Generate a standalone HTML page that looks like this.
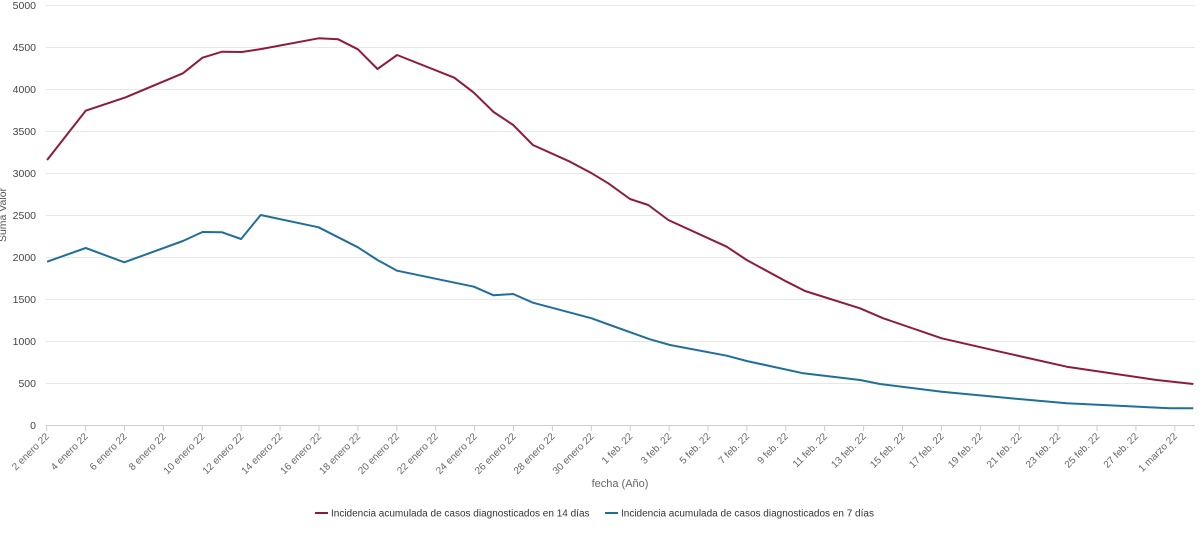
<!DOCTYPE html>
<html><head><meta charset="utf-8"><style>
body{margin:0;background:#fff;width:1200px;height:530px;overflow:hidden}
text{font-family:"Liberation Sans",sans-serif}
</style></head><body>
<svg width="1200" height="530" xmlns="http://www.w3.org/2000/svg">
<g stroke="#e8e8e8" stroke-width="1" id="grid"></g>
<g id="ylab" font-size="10.5" fill="#444" text-anchor="end"></g>
<g id="xt" stroke="#ccc"></g>
<g id="xlab" font-size="10" fill="#666" text-anchor="end"></g>
<line x1="46" y1="425.5" x2="1195" y2="425.5" stroke="#ccc"/>
<text transform="translate(6,215) rotate(-90)" font-size="10.5" fill="#555" text-anchor="middle">Suma Valor</text>
<text x="620" y="487" font-size="11" fill="#666" text-anchor="middle">fecha (Año)</text>
<polyline fill="none" stroke="#8e1b3c" stroke-width="2" stroke-linejoin="round" points="47.1,160 85.7,110.7 125.7,97.3 182.9,73.3 202.5,57.7 222.1,51.7 241.8,52 261.4,49 318.6,38.3 338.2,39.3 357.9,49.3 377.5,69 397.1,55 454.3,77.7 473.9,92.7 493.6,112 513.2,125 532.9,145 570,161.7 591.7,173.3 608.3,183.3 630,199 648.3,205 668.3,220 726.7,246.7 746.7,260 786.7,281.7 805,291 860,308.3 883.3,318.3 941.7,338.3 1000,351.7 1066.7,366.7 1156.7,380 1193.3,384"/>
<polyline fill="none" stroke="#1f6f9a" stroke-width="2" stroke-linejoin="round" points="47.1,261.7 85.7,248 124.3,262.3 182.9,241 202.5,232 222.1,232.3 241.1,239 260.7,215 318.6,227.3 357.9,247.3 377.5,260 397.1,270.7 473.9,286.7 493.6,295.3 513.2,294 532.9,302.7 591.7,318.3 610,325 650,339.3 670,345 726.7,355.7 746.7,361 803.3,373.3 860,380 880,384 941.7,391.7 1000,397.3 1066.7,403.3 1170,408.3 1193.3,408.3"/>
<line x1="315" y1="513" x2="328" y2="513" stroke="#8e1b3c" stroke-width="2"/>
<text x="331" y="516.5" font-size="10" fill="#333">Incidencia acumulada de casos diagnosticados en 14 días</text>
<line x1="605" y1="513" x2="618" y2="513" stroke="#1f6f9a" stroke-width="2"/>
<text x="621" y="516.5" font-size="10" fill="#333">Incidencia acumulada de casos diagnosticados en 7 días</text>
</svg>
<script>
var ns="http://www.w3.org/2000/svg";
function el(p,t,a,txt){var e=document.createElementNS(ns,t);for(var k in a)e.setAttribute(k,a[k]);if(txt)e.textContent=txt;document.getElementById(p).appendChild(e);}
for(var v=500;v<=5000;v+=500){var y=425-v*0.084;el("grid","line",{x1:46,x2:1195,y1:y+0.5,y2:y+0.5});}
for(var v=0;v<=5000;v+=500){var y=425-v*0.084;el("ylab","text",{x:36,y:y+4},String(v));}
var labs=[];
for(var d=2;d<=30;d+=2)labs.push(d+" enero 22");
for(var d=1;d<=27;d+=2)labs.push(d+" feb. 22");
labs.push("1 marzo 22");
labs.forEach(function(l,i){var x=46.7+i*38.9;el("xt","line",{x1:x,x2:x,y1:425,y2:431});
el("xlab","text",{transform:"translate("+(x+3)+",437) rotate(-45)"},l);});
</script>
</body></html>
